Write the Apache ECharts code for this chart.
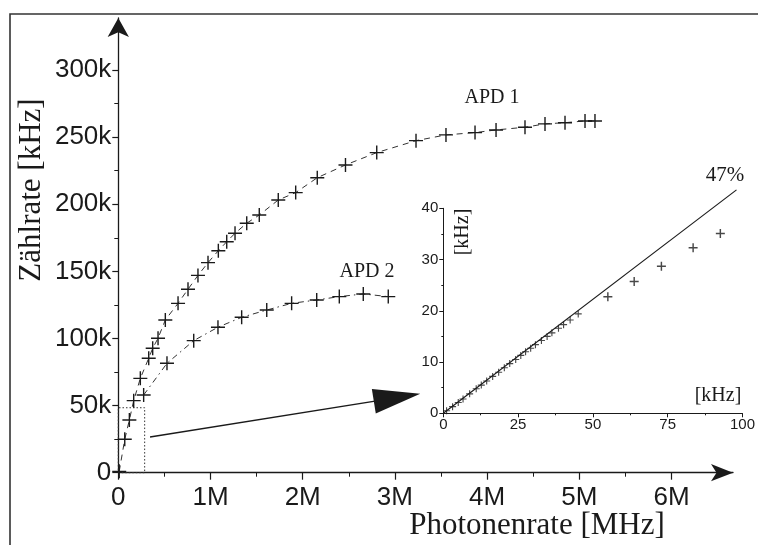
<!DOCTYPE html>
<html>
<head>
<meta charset="utf-8">
<script src="https://cdn.jsdelivr.net/npm/echarts@6/dist/echarts.min.js"></script>
<style>
  html, body { margin: 0; padding: 0; background: #fff; }
  #chart { width: 758px; height: 545px; }
</style>
</head>
<body>
<div id="chart"></div>
<script>
// Count rate vs. photon rate for two avalanche photodiodes (x in MHz, y in kHz)
const apd1X = [0.01, 0.07, 0.12, 0.167, 0.239, 0.33, 0.373, 0.431, 0.51, 0.648, 0.756, 0.864, 0.973, 1.085, 1.176, 1.266, 1.393, 1.529, 1.735, 1.924, 2.158, 2.464, 2.803, 3.229, 3.554, 3.869, 4.097, 4.411, 4.628, 4.845, 5.062, 5.17];
const apd1Y = [1, 24.9, 39.3, 53.7, 70.3, 85.3, 92.7, 100.2, 113.8, 126.2, 136.7, 147.0, 156.5, 165.4, 172.1, 178.4, 185.9, 192.0, 203.2, 208.7, 219.8, 229.3, 238.5, 247.4, 251.7, 253.4, 255.4, 257.4, 259.9, 260.8, 262.1, 262.1];

const apd2X = [0.275, 0.528, 0.818, 1.081, 1.338, 1.61, 1.88, 2.152, 2.397, 2.657, 2.928];
const apd2Y = [57.9, 81.5, 98.4, 108.4, 115.8, 121.2, 126.2, 128.7, 131.2, 133.2, 131.2];

// Inset: low-rate region (both axes in kHz)
const lowX = [1.1, 3.1, 5.0, 6.6, 8.8, 11.0, 12.7, 14.5, 16.5, 18.5, 20.4, 22.2, 24.2, 25.9, 27.5, 29.2, 30.8, 32.8, 34.7, 36.3, 38.5, 40.2, 42.4, 45.1];
const lowY = [0.5, 1.3, 2.1, 2.8, 3.8, 4.8, 5.5, 6.3, 7.2, 8.0, 8.9, 9.7, 10.5, 11.3, 12.0, 12.7, 13.4, 14.2, 15.0, 15.7, 16.6, 17.3, 18.2, 19.4];
const highX = [55.0, 63.8, 72.9, 83.5, 92.6];
const highY = [22.75, 25.7, 28.7, 32.3, 35.1];
// 47 % efficiency reference line
const fitX = [0, 98];
const fitY = [0, 43.6];

// Axis ticks and labels
const mainXMajor = [0, 1, 2, 3, 4, 5, 6];
const mainXMinor = [0.5, 1.5, 2.5, 3.5, 4.5, 5.5];
const mainYMajor = [0, 50, 100, 150, 200, 250, 300];
const mainYMinor = [25, 75, 125, 175, 225, 275];
const insetXMajor = [0, 25, 50, 75, 100];
const insetXMinor = [12.5, 37.5, 62.5, 87.5];
const insetYMajor = [0, 10, 20, 30, 40];
const insetYMinor = [5, 15, 25, 35];

// Zoomed region outline and pointer arrow (data coordinates of the main plot)
const zoomBox = [[0, 0], [0.286, 48.4]];
const pointer = [[0.344, 26.6], [3.023, 56.0]];

const pairs = (xs, ys) => xs.map((x, i) => [x, ys[i]]);

const INK = '#1a1a1a';
const SANS = '"Liberation Sans", Arial, sans-serif';
const SERIF = '"Liberation Serif", "Times New Roman", serif';
const PLUS = 'path://M0,6.3H14V7.7H0Z M6.3,0H7.7V14H6.3Z';
const PLUS_SMALL = 'path://M0,4.2H10V5.8H0Z M4.2,0H5.8V10H4.2Z';

function valueAxis(opts) {
  const base = {
    type: 'value',
    min: opts.min,
    max: opts.max,
    gridIndex: opts.grid,
    position: opts.position,
    splitLine: { show: false },
    axisLine: { show: false },
    axisTick: { show: false },
    axisLabel: { show: false }
  };
  return Object.assign(base, opts.extra || {});
}

const chart = echarts.init(document.getElementById('chart'), null, { renderer: 'canvas' });

const option = {
  animation: false,
  backgroundColor: '#fff',
  grid: [
    { left: 118.3, right: 25, top: 18, bottom: 72.3 },
    { left: 443.3, right: 13, top: 208.3, bottom: 131.7 }
  ],
  xAxis: [
    valueAxis({ min: 0, max: 6.667, grid: 0, position: 'bottom', extra: {
      axisLine: { show: true, lineStyle: { color: INK, width: 1.3 }, symbol: ['none', 'arrow'], symbolSize: [13, 22] },
      axisTick: { show: true, customValues: mainXMajor, length: 7, lineStyle: { color: INK, width: 1.2 } },
      axisLabel: { show: true, customValues: mainXMajor, margin: 12, color: INK, fontFamily: SANS, fontSize: 26,
        formatter: v => v === 0 ? '0' : v + 'M' }
    }}),
    valueAxis({ min: 0, max: 6.667, grid: 0, position: 'bottom', extra: {
      axisTick: { show: true, customValues: mainXMinor, length: 4, lineStyle: { color: INK, width: 1 } }
    }}),
    valueAxis({ min: 0, max: 100, grid: 1, position: 'bottom', extra: {
      axisLine: { show: true, lineStyle: { color: INK, width: 1 } },
      axisTick: { show: true, customValues: insetXMajor, length: 4, lineStyle: { color: INK, width: 1 } },
      axisLabel: { show: true, customValues: insetXMajor, margin: 4, color: INK, fontFamily: SANS, fontSize: 15 }
    }}),
    valueAxis({ min: 0, max: 100, grid: 1, position: 'bottom', extra: {
      axisTick: { show: true, customValues: insetXMinor, length: 2, lineStyle: { color: INK, width: 1 } }
    }})
  ],
  yAxis: [
    valueAxis({ min: 0, max: 338.8, grid: 0, position: 'left', extra: {
      axisLine: { show: true, lineStyle: { color: INK, width: 1.3 }, symbol: ['none', 'arrow'], symbolSize: [16, 19] },
      axisTick: { show: true, customValues: mainYMajor, length: 6, lineStyle: { color: INK, width: 1.2 } },
      axisLabel: { show: true, customValues: mainYMajor, margin: 7, color: INK, fontFamily: SANS, fontSize: 26,
        formatter: v => v === 0 ? '0' : v + 'k' }
    }}),
    valueAxis({ min: 0, max: 338.8, grid: 0, position: 'left', extra: {
      axisTick: { show: true, customValues: mainYMinor, length: 4, lineStyle: { color: INK, width: 1 } }
    }}),
    valueAxis({ min: 0, max: 40, grid: 1, position: 'left', extra: {
      axisLine: { show: true, lineStyle: { color: INK, width: 1 } },
      axisTick: { show: true, customValues: insetYMajor, length: 4, lineStyle: { color: INK, width: 1 } },
      axisLabel: { show: true, customValues: insetYMajor, margin: 5, color: INK, fontFamily: SANS, fontSize: 15 }
    }}),
    valueAxis({ min: 0, max: 40, grid: 1, position: 'left', extra: {
      axisTick: { show: true, customValues: insetYMinor, length: 2, lineStyle: { color: INK, width: 1 } }
    }})
  ],
  series: [
    {
      name: 'APD 1',
      type: 'line',
      xAxisIndex: 0, yAxisIndex: 0,
      data: pairs(apd1X, apd1Y),
      symbol: PLUS, symbolSize: 14,
      itemStyle: { color: INK },
      lineStyle: { color: '#333', width: 1, type: [6, 5] },
      z: 3,
      markArea: {
        silent: true,
        itemStyle: { color: 'rgba(0,0,0,0)', borderColor: '#333', borderWidth: 1, borderType: [1.5, 2] },
        data: [[{ coord: zoomBox[0] }, { coord: zoomBox[1] }]]
      },
      markLine: {
        silent: true,
        symbol: ['none', 'triangle'],
        symbolSize: [25, 47],
        label: { show: false },
        lineStyle: { color: INK, width: 1.3, type: 'solid' },
        data: [[{ coord: pointer[0] }, { coord: pointer[1] }]]
      }
    },
    {
      name: 'APD 2',
      type: 'line',
      xAxisIndex: 0, yAxisIndex: 0,
      data: pairs(apd2X, apd2Y),
      symbol: PLUS, symbolSize: 14,
      itemStyle: { color: INK },
      lineStyle: { color: '#333', width: 1, type: [6, 4, 1.5, 4] },
      z: 3
    },
    {
      name: '47%',
      type: 'line',
      xAxisIndex: 2, yAxisIndex: 2,
      data: pairs(fitX, fitY),
      clip: false,
      symbol: 'none',
      lineStyle: { color: INK, width: 1.1 }
    },
    {
      name: 'niedrig',
      type: 'scatter',
      xAxisIndex: 2, yAxisIndex: 2,
      data: pairs(lowX, lowY),
      symbol: PLUS_SMALL, symbolSize: 7,
      itemStyle: { color: INK }
    },
    {
      name: 'hoch',
      type: 'scatter',
      xAxisIndex: 2, yAxisIndex: 2,
      data: pairs(highX, highY),
      symbol: PLUS_SMALL, symbolSize: 9,
      itemStyle: { color: INK }
    }
  ],
  graphic: [
    // outer frame
    { type: 'polyline', shape: { points: [[10, 545], [10, 14], [758, 14]] }, style: { stroke: '#333', lineWidth: 1.6, fill: null }, silent: true },
    { type: 'text', x: 32, y: 190, rotation: Math.PI / 2,
      style: { text: 'Zählrate [kHz]', font: '31px ' + SERIF, fill: INK, align: 'center', verticalAlign: 'middle' } },
    { type: 'text', x: 537, y: 526,
      style: { text: 'Photonenrate [MHz]', font: '31px ' + SERIF, fill: INK, align: 'center', verticalAlign: 'middle' } },
    { type: 'text', x: 492, y: 98,
      style: { text: 'APD 1', font: '20px ' + SERIF, fill: INK, align: 'center', verticalAlign: 'middle' } },
    { type: 'text', x: 367, y: 272,
      style: { text: 'APD 2', font: '20px ' + SERIF, fill: INK, align: 'center', verticalAlign: 'middle' } },
    { type: 'text', x: 725, y: 175,
      style: { text: '47%', font: '21px ' + SERIF, fill: INK, align: 'center', verticalAlign: 'middle' } },
    { type: 'text', x: 718, y: 396,
      style: { text: '[kHz]', font: '20px ' + SERIF, fill: INK, align: 'center', verticalAlign: 'middle' } },
    { type: 'text', x: 463, y: 232, rotation: Math.PI / 2,
      style: { text: '[kHz]', font: '20px ' + SERIF, fill: INK, align: 'center', verticalAlign: 'middle' } }
  ]
};

chart.setOption(option);
</script>
</body>
</html>
